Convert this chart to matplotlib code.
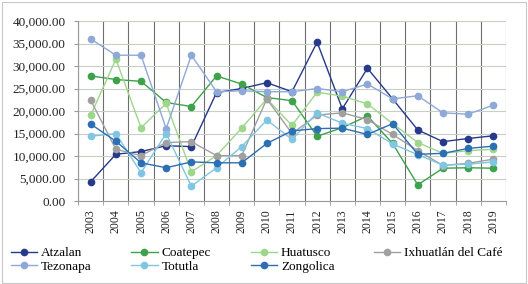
import numpy as np
from matplotlib import pyplot as plt

years = [str(y) for y in range(2003, 2020)]

atzalan = [4300, 10400, 11000, 12300, 12100, 24100, 25000, 26300, 24300, 35300, 20500, 29500, 22700, 15800, 13200, 13900, 14500]
coatepec = [27800, 27000, 26600, 21900, 21000, 27800, 26000, 23000, 22300, 14400, 16300, 18900, 12800, 3600, 7300, 7400, 7300]
huatusco = [19100, 31500, 16300, 21700, 6500, 10100, 16200, 22700, 16800, 24200, 23300, 21600, 17200, 13000, 10600, 11200, 11500]
ixhuatlan = [22400, 11500, 10100, 13000, 13200, 10100, 10100, 22700, 15000, 19100, 19600, 18100, 14800, 11200, 7900, 8400, 9300]
tezonapa = [36000, 32400, 32400, 16100, 32400, 24300, 24500, 24300, 24300, 25000, 24300, 26000, 22700, 23400, 19600, 19300, 21300]
totutla = [14400, 15000, 6300, 15000, 3300, 7400, 12100, 18000, 13700, 19600, 17300, 16100, 12700, 10300, 8000, 8200, 8700]
zongolica = [17100, 13300, 8500, 7400, 8700, 8500, 8500, 12800, 15600, 16100, 16200, 14800, 17200, 10400, 10600, 11700, 12200]

series = [
    ("Atzalan", atzalan, "#27398a"),
    ("Coatepec", coatepec, "#3da24a"),
    ("Huatusco", huatusco, "#9ed68c"),
    ("Ixhuatlán del Café", ixhuatlan, "#a0a0a0"),
    ("Tezonapa", tezonapa, "#8ea9d8"),
    ("Totutla", totutla, "#80c6e2"),
    ("Zongolica", zongolica, "#2c6fb4"),
]

plt.rcParams['font.family'] = ['Liberation Serif', 'DejaVu Serif']

fig = plt.figure(figsize=(5.28, 2.84), dpi=100)
ax = fig.add_axes([0.148, 0.292, 0.81, 0.634])

x = np.arange(len(years))
handles = []
for name, vals, col in series:
    h, = ax.plot(x, vals, '-o', color=col, lw=1.0, markersize=4.5, label=name)
    handles.append(h)

ax.set_xlim(-0.5, len(years) - 0.5)
ax.set_ylim(0, 40000)
ax.set_yticks(np.arange(0, 40001, 5000))
ax.set_yticklabels(["{:,.2f}".format(v) for v in np.arange(0, 40001, 5000)], fontsize=9.5, color="#222222")
ax.set_xticks(x)
ax.set_xticklabels(years, rotation=90, fontsize=8.5, color="#222222")
ax.set_xticks(np.arange(-0.5, len(years), 1), minor=True)
ax.tick_params(axis='x', which='major', length=0, pad=6)
ax.tick_params(axis='x', which='minor', length=3, color="#999999")
ax.tick_params(axis='y', length=3, color="#999999", pad=6)

ax.grid(axis='y', which='major', color="#c6cfc6", lw=0.8)
ax.grid(axis='x', which='minor', color="#6e6e6e", lw=0.8)
ax.set_axisbelow(True)
for s in ['top', 'right']:
    ax.spines[s].set_visible(False)
ax.spines['left'].set_color("#999999")
ax.spines['bottom'].set_color("#999999")
ax.spines['left'].set_linewidth(0.8)
ax.spines['bottom'].set_linewidth(0.8)

# legend filled row by row, like the original
order = [0, 4, 1, 5, 2, 6, 3]
fig.legend([handles[i] for i in order], [series[i][0] for i in order],
           loc='lower left', bbox_to_anchor=(0.01, 0.02), ncol=4, fontsize=9.5,
           frameon=False, handlelength=2.0, handletextpad=0.3, columnspacing=3.0,
           labelspacing=0.1, borderaxespad=0.0)

border = plt.Rectangle((0.004, 0.004), 0.992, 0.99, transform=fig.transFigure,
                       fill=False, edgecolor="#c8c8c8", lw=0.8)
fig.patches.append(border)

fig.savefig("out.png", dpi=100)
